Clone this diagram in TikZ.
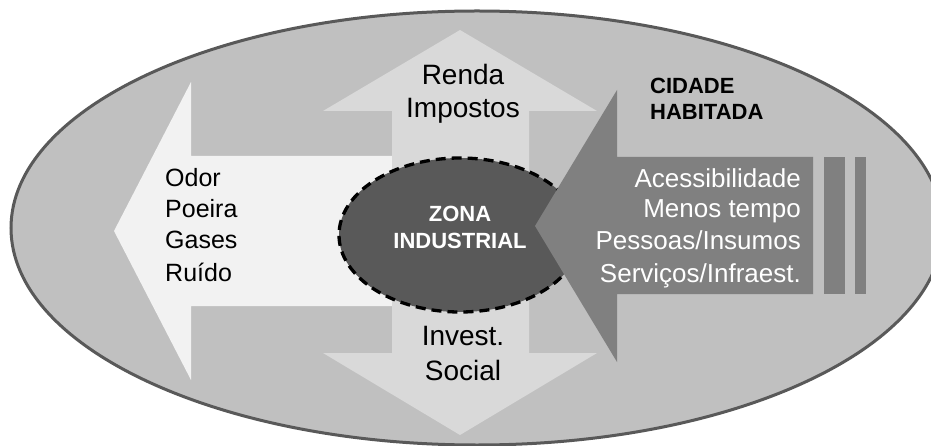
\documentclass[tikz,border=0pt]{standalone}
\usepackage{fontspec}
\setmainfont{Liberation Sans}
\definecolor{outerfill}{HTML}{C0C0C0}
\definecolor{outerline}{HTML}{595959}
\definecolor{leftfill}{HTML}{F2F2F2}
\definecolor{vertfill}{HTML}{D9D9D9}
\definecolor{zonefill}{HTML}{595959}
\definecolor{rightfill}{HTML}{808080}
\begin{document}
\begin{tikzpicture}[x=1pt,y=-1pt,
  bigtxt/.style={inner sep=0pt, font=\fontsize{28}{33}\selectfont, text=black},
  lefttxt/.style={inner sep=0pt, font=\fontsize{25}{30}\selectfont, text=black, anchor=base west},
  righttxt/.style={inner sep=0pt, font=\fontsize{26}{30}\selectfont, text=white, anchor=base east},
  boldtxt/.style={inner sep=0pt, font=\fontsize{22}{26}\selectfont\bfseries}]
\useasboundingbox (0,0) rectangle (931,446);
% outer ellipse
\draw[fill=outerfill, draw=outerline, line width=3pt] (477,228) ellipse [x radius=466, y radius=217];
% left arrow
\fill[leftfill] (114,231) -- (191,82) -- (191,156) -- (400,156) -- (400,306) -- (191,306) -- (191,380) -- cycle;
% vertical double arrow
\fill[vertfill] (460,30) -- (597,111) -- (529,111) -- (529,353) -- (597,353) -- (460,435) -- (323,353) -- (392,353) -- (392,111) -- (323,111) -- cycle;
% centre ellipse
\draw[fill=zonefill, draw=black, line width=3.3pt, dash pattern=on 10pt off 6pt] (460,235) ellipse [x radius=121, y radius=77];
% right arrow
\fill[rightfill] (535,226) -- (617,90) -- (617,157) -- (813,157) -- (813,294) -- (617,294) -- (617,362) -- cycle;
\fill[rightfill] (824,157) rectangle (845,294);
\fill[rightfill] (855,157) rectangle (866,294);
% texts
\node[bigtxt, anchor=base] (renda) at (463,85) {Renda};
\node[bigtxt, anchor=base] (impostos) at (463,118) {Impostos};
\node[bigtxt, anchor=base] (invest) at (463,345) {Invest.};
\node[bigtxt, anchor=base] (social) at (463,380) {Social};
\node[lefttxt] (odor) at (165,187) {Odor};
\node[lefttxt] (poeira) at (165,218) {Poeira};
\node[lefttxt] (gases) at (165,249) {Gases};
\node[lefttxt] (ruido) at (165,281) {Ruído};
\node[righttxt] (acess) at (801,188) {Acessibilidade};
\node[righttxt] (menos) at (801,218) {Menos tempo};
\node[righttxt] (pessoas) at (801,250) {Pessoas/Insumos};
\node[righttxt] (servicos) at (801,282) {Serviços/Infraest.};
\node[boldtxt, anchor=base west, text=black] (cidade) at (650,94) {CIDADE};
\node[boldtxt, anchor=base west, text=black] (habitada) at (650,120) {HABITADA};
\node[boldtxt, anchor=base, text=white] (zona) at (460,222) {ZONA};
\node[boldtxt, anchor=base, text=white] (industrial) at (460,248) {INDUSTRIAL};
\end{tikzpicture}
\end{document}
